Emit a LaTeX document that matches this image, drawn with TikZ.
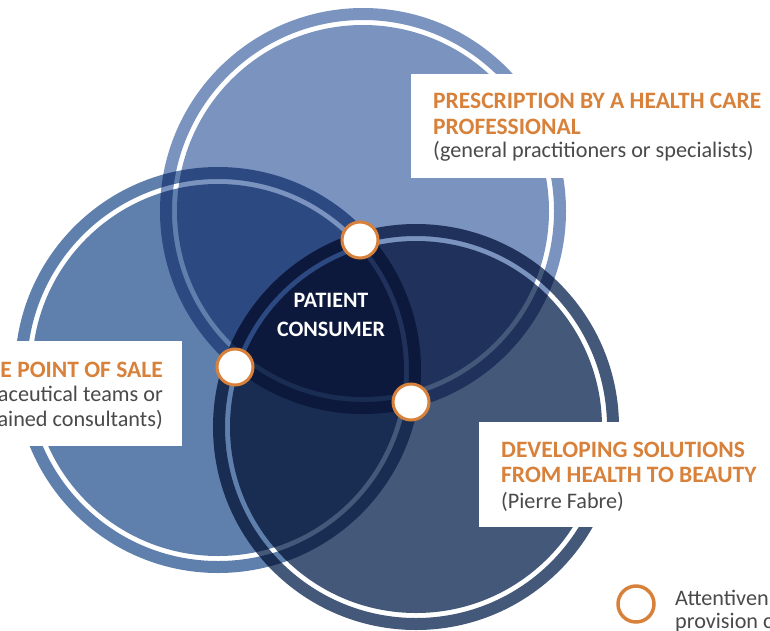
\documentclass[tikz,border=0pt]{standalone}
\usepackage{fontspec}
\setmainfont{Carlito}
\usepackage{xcolor}
\usetikzlibrary{positioning}

\definecolor{topblue}{HTML}{7A93BF}
\definecolor{leftblue}{HTML}{5F80AD}
\definecolor{rightblue}{HTML}{44587A}
\definecolor{accent}{HTML}{D8813A}
\definecolor{txtgray}{HTML}{4A4A4A}

\tikzset{
  ring/.style={fill=#1, even odd rule},
  disk/.style={fill=#1},
  head/.style={inner sep=0pt, text=accent, font=\fontsize{23.5}{26}\selectfont\bfseries},
  sub/.style={inner sep=0pt, text=txtgray, font=\fontsize{22.2}{26}\selectfont},
}

\begin{document}
\begin{tikzpicture}[x=1pt,y=-1pt]
\useasboundingbox (0,0) rectangle (770,630);
\coordinate (C-top) at (363,211);
\coordinate (C-left) at (218,370);
\coordinate (C-right) at (416,427);
% three circles, darker where they overlap
\begin{scope}[blend mode=multiply]
\fill[ring=topblue] (C-top) circle[radius=203pt] circle[radius=191pt];
\fill[disk=topblue] (C-top) circle[radius=186pt];
\fill[ring=leftblue] (C-left) circle[radius=203pt] circle[radius=191pt];
\fill[disk=leftblue] (C-left) circle[radius=186pt];
\fill[ring=rightblue] (C-right) circle[radius=203pt] circle[radius=191pt];
\fill[disk=rightblue] (C-right) circle[radius=186pt];
\end{scope}
\begin{scope}[every node/.style={fill=white, inner sep=0pt, anchor=north west}]
\node[minimum width=359pt, minimum height=104pt] (BOX-hcp) at (411,74) {};
\node[minimum width=182pt, minimum height=105pt] (BOX-pos) at (0,341) {};
\node[minimum width=291pt, minimum height=105pt] (BOX-pf) at (479,422) {};
\end{scope}
\node[head, anchor=base west] (HCP-1) at (433,108) {PRESCRIPTION BY A HEALTH CARE};
\node[head, anchor=base west] (HCP-2) at (433,134) {PROFESSIONAL};
\node[sub, anchor=base west] (HCP-3) at (433,157) {(general practitioners or specialists)};
\node[head, anchor=base east] (POS-1) at (163,377) {E POINT OF SALE};
\node[sub, anchor=base east] (POS-2) at (163,401) {aceutical teams or};
\node[sub, anchor=base east] (POS-3) at (163,426) {ained consultants)};
\node[head, anchor=base west] (PF-1) at (501,457) {DEVELOPING SOLUTIONS};
\node[head, anchor=base west] (PF-2) at (501,482) {FROM HEALTH TO BEAUTY};
\node[sub, anchor=base west] (PF-3) at (501,508) {(Pierre Fabre)};
\begin{scope}[every node/.style={inner sep=0pt, text=white, font=\fontsize{22}{26}\selectfont\bfseries, anchor=base}]
\node (PC-1) at (331,307) {PATIENT};
\node (PC-2) at (331,336) {CONSUMER};
\end{scope}
\begin{scope}[every node/.style={circle, fill=white, draw=accent, line width=3pt, minimum size=36pt, inner sep=0pt}]
\node (DOT-1) at (360,240) {};
\node (DOT-2) at (235,367) {};
\node (DOT-3) at (411,402) {};
\end{scope}
\node[circle, draw=accent, line width=3.5pt, minimum size=36pt, inner sep=0pt] (LEG-dot) at (636,604) {};
\node[sub, anchor=base west] (LEG-1) at (675,605) {Attentiven};
\node[sub, anchor=base west] (LEG-2) at (675,628) {provision c};
\end{tikzpicture}
\end{document}
